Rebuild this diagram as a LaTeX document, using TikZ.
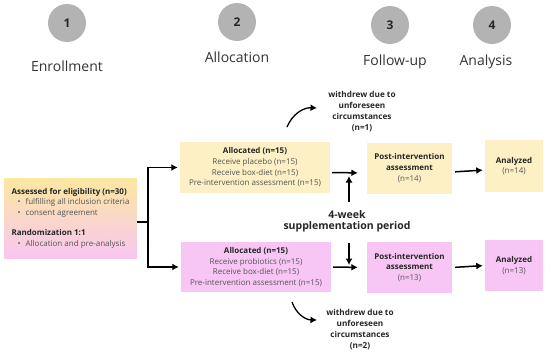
\documentclass[tikz,border=0pt]{standalone}
\usepackage{fontspec}
\setmainfont{Open Sans}
\usetikzlibrary{positioning,arrows.meta}
\definecolor{boxyellow}{HTML}{FCF0C4}
\definecolor{boxpink}{HTML}{F8C6F4}
\definecolor{fadeyellow}{HTML}{FCE8A0}
\definecolor{fadepink}{HTML}{F8C6F0}
\definecolor{stepgray}{HTML}{B3B3B3}
\definecolor{txtgray}{HTML}{555555}
\newcommand{\hd}[1]{\textcolor{black!85}{\textbf{#1}}}
\newcommand{\bul}{\hspace*{6pt}\textbullet\hspace{5pt}}
\begin{document}
\begin{tikzpicture}[x=1pt,y=-1pt,every node/.style={inner sep=1pt}]
\tikzstyle{arrow}=[draw,line width=1.5pt,-{Latex[length=6.5pt,width=7pt]}]
\tikzstyle{phase}=[circle,fill=stepgray,minimum size=38pt,font=\fontsize{12}{14}\selectfont\bfseries,text=black!85]
\tikzstyle{phasename}=[font=\fontsize{14}{16}\selectfont,text=black!80]
\tikzstyle{infobox}=[align=center,font=\fontsize{8}{10.7}\selectfont,text=txtgray]
\tikzstyle{note}=[align=center,font=\fontsize{8.2}{11}\selectfont\bfseries,text=black!85]
\useasboundingbox (0,0) rectangle (550,354);

% phases
\node[phase](c1) at (67,23){1};
\node[phase](c2) at (237,22){2};
\node[phase](c3) at (390,25){3};
\node[phase](c4) at (492,25){4};
\node[phasename](l1) at (67,66){Enrollment};
\node[phasename](l2) at (237,57){Allocation};
\node[phasename](l3) at (395,62){Follow-up};
\node[phasename](l4) at (486,62){Analysis};

% enrollment
\node[infobox,align=left,top color=fadeyellow,bottom color=fadepink,minimum width=133pt,minimum height=80pt](enr) at (70.5,218){\hd{Assessed for eligibility (n=30)}\\\bul fulfilling all inclusion criteria\\\bul consent agreement\\[9pt]\hd{Randomization 1:1}\\\bul Allocation and pre-analysis};

% allocation
\node[infobox,fill=boxyellow,minimum width=150pt,minimum height=51pt](a1) at (255,167.5){\hd{Allocated (n=15)}\\Receive placebo (n=15)\\Receive box-diet (n=15)\\Pre-intervention assessment (n=15)};
\node[infobox,fill=boxpink,minimum width=150pt,minimum height=50pt](a2) at (256,267){\hd{Allocated (n=15)}\\Receive probiotics (n=15)\\Receive box-diet (n=15)\\Pre-intervention assessment (n=15)};

% follow-up
\node[infobox,fill=boxyellow,minimum width=85pt,minimum height=51pt](p1) at (409.5,168){\hd{Post-intervention}\\\hd{assessment}\\(n=14)};
\node[infobox,fill=boxpink,minimum width=85pt,minimum height=51pt](p2) at (409.5,267.5){\hd{Post-intervention}\\\hd{assessment}\\(n=13)};

% analysis
\node[infobox,fill=boxyellow,minimum width=58pt,minimum height=52pt](an1) at (514,166){\hd{Analyzed}\\(n=14)};
\node[infobox,fill=boxpink,minimum width=58pt,minimum height=51pt](an2) at (514,265.5){\hd{Analyzed}\\(n=13)};

% period and withdrawals
\node[note,font=\fontsize{10.5}{11}\selectfont\bfseries](period) at (347,221){4-week\\supplementation period};
\node[note](w1) at (362,111.5){withdrew due to\\unforeseen\\circumstances\\(n=1)};
\node[note](w2) at (360,330){withdrew due to\\unforeseen\\circumstances\\(n=2)};

\coordinate (fork) at (148,222);
\coordinate (up1) at (349,202);
\coordinate (up2) at (349,176);
\coordinate (dn1) at (349,243);
\coordinate (dn2) at (349,265);
\coordinate (w1s) at (287,127);
\coordinate (w1e) at (317,108);
\coordinate (w2s) at (292,302);
\coordinate (w2e) at (317,320);

\draw[line width=1.5pt] ([yshift=-4pt]enr.east) -- (fork);
\path[arrow] (fork) |- ([xshift=-2pt]a1.west);
\path[arrow] (fork) |- ([xshift=-2pt]a2.west);

\path[arrow,shorten <=2pt,shorten >=9pt] ([yshift=-5pt]a1.east) -- ([yshift=-5pt]p1.west);
\path[arrow,shorten <=2pt,shorten >=9pt] (a2.east) -- (p2.west);
\path[arrow,shorten <=3pt,shorten >=2pt] ([yshift=-4pt]p1.east) -- ([yshift=-4pt]an1.west);
\path[arrow,shorten <=3pt,shorten >=2pt] (p2.east) -- (an2.west);

\path[arrow] (up1) -- (up2);
\path[arrow] (dn1) -- (dn2);

\path[arrow,line width=1.3pt] (w1s) to[bend left=35] (w1e);
\path[arrow,line width=1.3pt] (w2s) to[bend right=35] (w2e);
\end{tikzpicture}
\end{document}
